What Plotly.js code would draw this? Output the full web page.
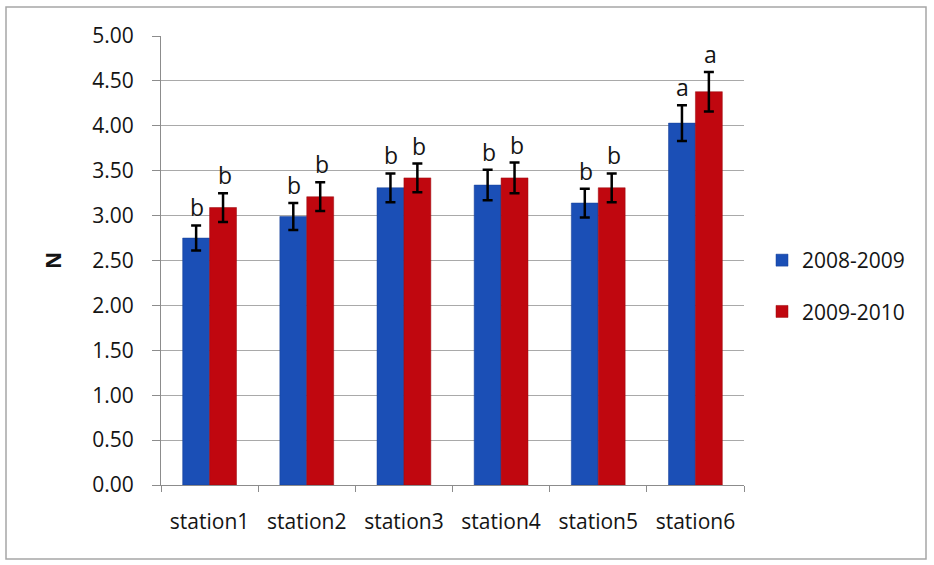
<!DOCTYPE html>
<html>
<head>
<meta charset="utf-8">
<script src="https://cdn.plot.ly/plotly-3.0.1.min.js"></script>
<style>html,body{margin:0;padding:0;background:#fff;}#chart{width:934px;height:565px;}</style>
</head>
<body>
<div id="chart"></div>
<script>
const stations = ["station1", "station2", "station3", "station4", "station5", "station6"];
const seriesNames = ["2008-2009", "2009-2010"];
const values2008 = [2.75, 2.99, 3.31, 3.34, 3.14, 4.03];
const errors2008 = [0.14, 0.15, 0.16, 0.17, 0.16, 0.20];
const values2009 = [3.09, 3.21, 3.42, 3.42, 3.31, 4.38];
const errors2009 = [0.16, 0.16, 0.16, 0.17, 0.16, 0.22];
const letters2008 = ["b", "b", "b", "b", "b", "a"];
const letters2009 = ["b", "b", "b", "b", "b", "a"];
const yTicks = [0, 0.5, 1, 1.5, 2, 2.5, 3, 3.5, 4, 4.5, 5];

const W = 934, H = 565;
const L = 161, R = 744, T = 36, B = 485;
const px = x => (x - L) / (R - L);
const py = y => (B - y) / (B - T);

const blue = "#1b4fb6", red = "#c0070f";
const fontFam = "Open Sans, sans-serif";
const txt = "#141414";

const traces = [
  {type: "bar", name: seriesNames[0], x: stations, y: values2008,
   marker: {color: blue, line: {color: "#163f94", width: 0.5}},
   error_y: {type: "data", array: errors2008, visible: true, color: "#000", thickness: 2.5, width: 5},
   legendgroup: "g1"},
  {type: "bar", name: seriesNames[1], x: stations, y: values2009,
   marker: {color: red, line: {color: "#9a0a0f", width: 0.5}},
   error_y: {type: "data", array: errors2009, visible: true, color: "#000", thickness: 2.5, width: 5},
   legendgroup: "g2"}
];

const annotations = [];
const half = (R - L) / stations.length * (1 - 0.446) / 4;
stations.forEach((s, i) => {
  annotations.push({x: s, y: values2008[i] + errors2008[i], xref: "x", yref: "y",
    text: letters2008[i], showarrow: false, xshift: -half + 1, yanchor: "bottom", yshift: 0,
    font: {family: fontFam, size: 23, color: txt}});
  annotations.push({x: s, y: values2009[i] + errors2009[i], xref: "x", yref: "y",
    text: letters2009[i], showarrow: false, xshift: half + 2, yanchor: "bottom", yshift: 0,
    font: {family: fontFam, size: 23, color: txt}});
});

const layout = {
  width: W, height: H,
  margin: {l: L, r: W - R, t: T, b: H - B, pad: 0},
  paper_bgcolor: "#fff", plot_bgcolor: "#fff",
  barmode: "group", bargap: 0.446, bargroupgap: 0,
  font: {family: fontFam, size: 21, color: txt},
  xaxis: {
    type: "category", showgrid: false, showline: true, linecolor: "#8c8c8c", linewidth: 1,
    ticks: "outside", ticklen: 6, tickcolor: "#8c8c8c", tickson: "boundaries",
    tickfont: {family: fontFam, size: 21, color: txt}, ticklabelstandoff: 18,
    zeroline: false
  },
  yaxis: {
    range: [0, 5], tickvals: yTicks, tickformat: ".2f",
    showgrid: true, gridcolor: "#a9a9a9", gridwidth: 1,
    showline: true, linecolor: "#8c8c8c", linewidth: 1,
    ticks: "outside", ticklen: 8, tickcolor: "#8c8c8c",
    tickfont: {family: fontFam, size: 21, color: txt}, ticklabelstandoff: 14,
    zeroline: false,
    title: {text: "<b>N</b>", font: {family: fontFam, size: 21, color: txt}, standoff: 24}
  },
  legend: {x: px(762), y: py(286), xanchor: "left", yanchor: "middle",
    font: {family: fontFam, size: 21, color: txt}, tracegroupgap: 21,
    traceorder: "grouped", bgcolor: "rgba(0,0,0,0)"},
  showlegend: true,
  annotations: annotations,
  shapes: [{type: "rect", xref: "paper", yref: "paper",
    x0: px(6), x1: px(926), y0: py(7), y1: py(559),
    line: {color: "#a6a6a6", width: 1.5}, fillcolor: "rgba(0,0,0,0)", layer: "below"}]
};

Plotly.newPlot("chart", traces, layout, {displayModeBar: false, staticPlot: true});
</script>
</body>
</html>
